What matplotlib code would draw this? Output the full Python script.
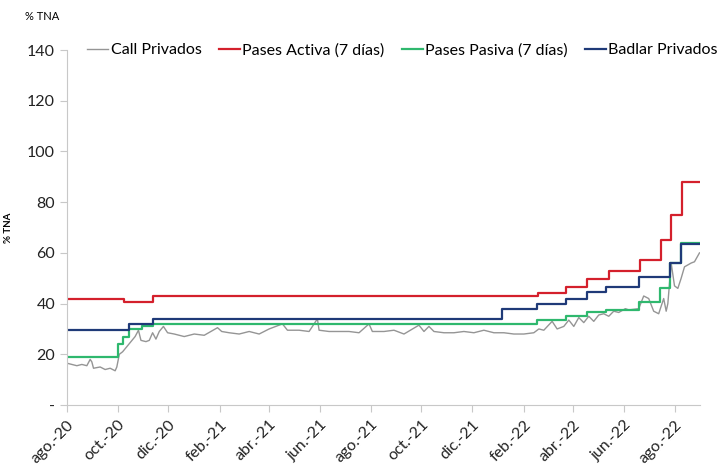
import numpy as np
import pandas as pd
import matplotlib
matplotlib.use("Agg")
from matplotlib import pyplot as plt
import matplotlib.dates as mdates


# Pases Activa (7 dias) - fechas de cambio y tasa
activa_dates = ["2020-08-01", "2020-10-09", "2020-11-12", "2022-02-18", "2022-03-24",
                "2022-04-18", "2022-05-14", "2022-06-21", "2022-07-16", "2022-07-28",
                "2022-08-10", "2022-08-31"]
activa_vals = [42, 40.8, 43, 44, 46.5, 49.8, 53, 57.2, 65, 75, 88, 88]

# Pases Pasiva (7 dias)
pasiva_dates = ["2020-08-01", "2020-10-01", "2020-10-07", "2020-10-15", "2020-10-30",
                "2020-11-12", "2022-02-17", "2022-03-24", "2022-04-18", "2022-05-11",
                "2022-06-19", "2022-07-15", "2022-07-27", "2022-08-09", "2022-08-31"]
pasiva_vals = [19, 24, 27, 30, 31, 32, 33.5, 35, 36.5, 37.5, 40.5, 46, 56, 64, 64]

# Badlar Privados
badlar_dates = ["2020-08-01", "2020-10-15", "2020-11-12", "2022-01-06", "2022-02-17",
                "2022-03-24", "2022-04-18", "2022-05-11", "2022-06-19", "2022-07-27",
                "2022-08-09", "2022-08-31"]
badlar_vals = [29.6, 31.8, 34, 37.7, 40, 42, 44.7, 46.5, 50.6, 56, 63.5, 63.5]

# Call Privados
call_dates = ["2020-08-01", "2020-08-07", "2020-08-13", "2020-08-19", "2020-08-25",
              "2020-08-29", "2020-08-31", "2020-09-02", "2020-09-10", "2020-09-16",
              "2020-09-22", "2020-09-28", "2020-09-30", "2020-10-03", "2020-10-07",
              "2020-10-12", "2020-10-17", "2020-10-22", "2020-10-26", "2020-10-29",
              "2020-11-04", "2020-11-08", "2020-11-12", "2020-11-16", "2020-11-20",
              "2020-11-25", "2020-11-30", "2020-12-08", "2020-12-20", "2021-01-01",
              "2021-01-13", "2021-01-29", "2021-02-03", "2021-02-12", "2021-02-24",
              "2021-03-08", "2021-03-20", "2021-04-01", "2021-04-17", "2021-04-23",
              "2021-05-07", "2021-05-19", "2021-05-29", "2021-05-31", "2021-06-12",
              "2021-06-24", "2021-07-06", "2021-07-18", "2021-07-30", "2021-08-03",
              "2021-08-17", "2021-08-29", "2021-09-10", "2021-09-28", "2021-10-04",
              "2021-10-10", "2021-10-16", "2021-10-28", "2021-11-09", "2021-11-21",
              "2021-12-03", "2021-12-15", "2021-12-27", "2022-01-08", "2022-01-20",
              "2022-02-01", "2022-02-13", "2022-02-19", "2022-02-25", "2022-03-07",
              "2022-03-13", "2022-03-21", "2022-03-27", "2022-04-02", "2022-04-08",
              "2022-04-14", "2022-04-20", "2022-04-26", "2022-05-02", "2022-05-08",
              "2022-05-14", "2022-05-20", "2022-05-26", "2022-06-03", "2022-06-07",
              "2022-06-19", "2022-06-25", "2022-07-01", "2022-07-07", "2022-07-13",
              "2022-07-19", "2022-07-22", "2022-07-24", "2022-07-28", "2022-08-01",
              "2022-08-05", "2022-08-09", "2022-08-13", "2022-08-21", "2022-08-25",
              "2022-08-31"]
call_vals = [16.5, 16, 15.5, 16, 15.5,
             18, 17, 14.5, 15, 14,
             14.5, 13.5, 15, 20, 21,
             23, 25, 27, 29.5, 25.5,
             25, 25.5, 28.5, 26, 29,
             31, 28.5, 28, 27, 28,
             27.5, 30.5, 29, 28.5, 28,
             29, 28, 30, 32, 29.5,
             29.5, 29, 34, 29.5, 29,
             29, 29, 28.5, 32, 29,
             29, 29.5, 28, 31.5, 29,
             31, 29, 28.5, 28.5, 29,
             28.5, 29.5, 28.5, 28.5, 28,
             28, 28.5, 30, 29.5, 33,
             30, 31, 33.5, 31, 34.5,
             32.5, 35, 33, 35.5, 36,
             35, 37, 36.5, 38, 37.5,
             38, 43, 42, 37, 36,
             42, 37, 40, 56, 47,
             46, 50, 54.5, 56, 56.5,
             60]

tick_dates = pd.date_range("2020-08-01", "2022-08-01", freq="2MS")
meses = ["ene.", "feb.", "mar.", "abr.", "may.", "jun.", "jul.", "ago.", "sept.", "oct.", "nov.", "dic."]
tick_labels = [f"{meses[d.month - 1]}-{d.strftime('%y')}" for d in tick_dates]

plt.rcParams['font.family'] = ['Lato', 'DejaVu Sans']

fig = plt.figure(figsize=(7.19, 4.68), dpi=100)
ax = fig.add_axes([0.093, 0.1346, 0.881, 0.7584])

ax.plot(pd.to_datetime(call_dates), call_vals, color='#959595', lw=1.0, label='Call Privados')
ax.plot(pd.to_datetime(activa_dates), activa_vals, color='#d4202c', lw=1.6,
        drawstyle='steps-post', label='Pases Activa (7 días)')
ax.plot(pd.to_datetime(pasiva_dates), pasiva_vals, color='#2fb86e', lw=1.6,
        drawstyle='steps-post', label='Pases Pasiva (7 días)')
ax.plot(pd.to_datetime(badlar_dates), badlar_vals, color='#1f3a78', lw=1.6,
        drawstyle='steps-post', label='Badlar Privados')

ax.set_ylim(0, 140)
ax.set_yticks(range(0, 141, 20))
ax.set_yticklabels(['-'] + [str(v) for v in range(20, 141, 20)])
ax.set_xlim(pd.Timestamp("2020-08-01"), pd.Timestamp("2022-09-01"))
ax.set_xticks(tick_dates)
ax.set_xticklabels(tick_labels, rotation=45, ha='right', rotation_mode='anchor')

for s in ['top', 'right']:
  ax.spines[s].set_visible(False)
for s in ['left', 'bottom']:
  ax.spines[s].set_color('#c8c8c8')
ax.tick_params(axis='both', colors='#c8c8c8', labelcolor='#222222', labelsize=11.5, length=5)
ax.tick_params(axis='x', pad=4)

ax.set_ylabel('% TNA', fontsize=7, fontweight='bold', labelpad=10)
fig.text(0.035, 0.965, '% TNA', fontsize=8, va='center', ha='left')

leg = fig.legend(loc='center', bbox_to_anchor=(0.56, 0.893), ncol=4, frameon=False,
                 fontsize=11.5, handlelength=1.3, handletextpad=0.15, columnspacing=1.1)

fig.savefig('out.png', dpi=100)
